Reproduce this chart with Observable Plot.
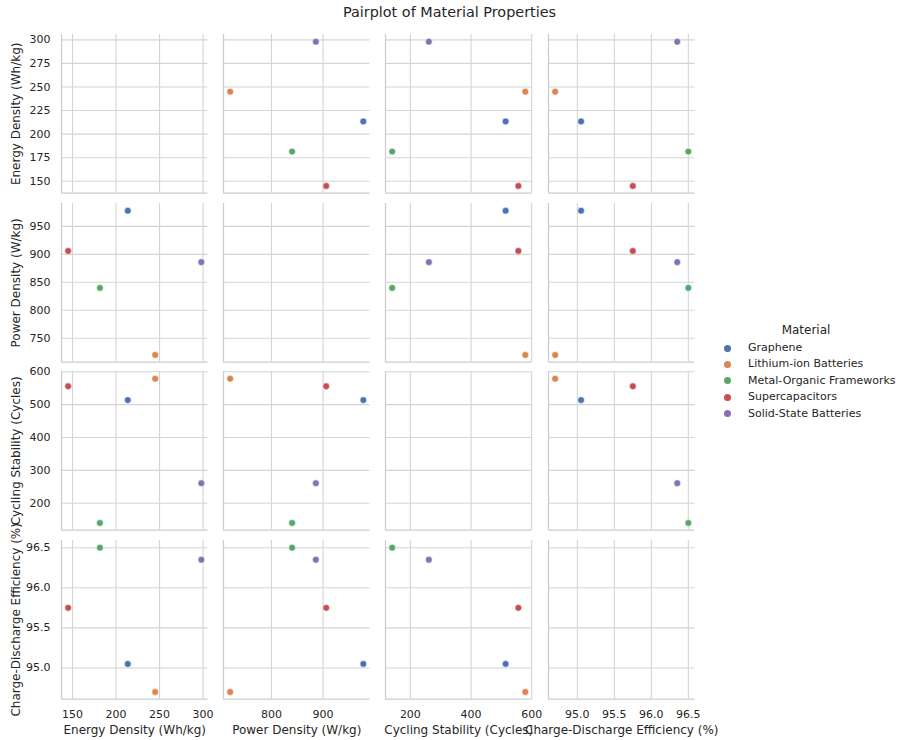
<!DOCTYPE html>
<html><head><meta charset="utf-8">
<script src="https://cdn.jsdelivr.net/npm/d3@7"></script>
<script src="https://cdn.jsdelivr.net/npm/@observablehq/plot@0.6"></script>
<style>
body{margin:0;background:#fff;font-family:"DejaVu Sans",sans-serif;color:#262626;}
#chart{position:relative;width:899px;height:740px;overflow:hidden;}
#chart svg{position:absolute;}
.title{position:absolute;left:0;top:4px;width:899px;text-align:center;font-size:14.4px;line-height:16px;}
.lgtitle{position:absolute;left:706px;width:200px;top:322px;text-align:center;font-size:12px;line-height:16px;}
.lgitem{position:absolute;left:748px;font-size:11px;line-height:16px;white-space:nowrap;}
.lgdot{position:absolute;width:7px;height:7px;border-radius:50%;}
</style></head><body><div id="chart"></div>
<script>
// ---- data ----
const materials = ["Graphene","Lithium-ion Batteries","Metal-Organic Frameworks","Supercapacitors","Solid-State Batteries"];
const energyDensity    = [213.5, 245, 181.5, 145, 298];
const powerDensity     = [978, 720, 840, 906, 886];
const cyclingStability = [514, 579, 140, 556, 261];
const efficiency       = [95.05, 94.7, 96.5, 95.75, 96.35];
const colors = ["#4c72b0","#dd8452","#55a868","#c44e52","#8172b3"];
const varLabels = ["Energy Density (Wh/kg)","Power Density (W/kg)","Cycling Stability (Cycles)","Charge-Discharge Efficiency (%)"];
// tick labels: x (column) ticks and y (row) ticks per variable
const xTickValues = [[150,200,250,300],[800,900],[200,400,600],[95.0,95.5,96.0,96.5]];
const yTickValues = [[150,175,200,225,250,275,300],[750,800,850,900,950],[200,300,400,500,600],[95.0,95.5,96.0,96.5]];
const tickFormats = [d3.format("d"), d3.format("d"), d3.format("d"), d3.format(".1f")];

// ---- build ----
const vars = [energyDensity, powerDensity, cyclingStability, efficiency];
const rowsData = materials.map((m, i) => ({material: m, v: vars.map(a => a[i])}));
function paddedDomain(arr) {
  const [a, b] = d3.extent(arr); const p = (b - a) * 0.05; return [a - p, b + p];
}
const domains = vars.map(paddedDomain);

const chart = document.getElementById("chart");
const t = document.createElement("div"); t.className = "title"; t.textContent = "Pairplot of Material Properties"; chart.appendChild(t);

const FW = 146.5, FH = 158.7, X0 = 61, Y0 = 34, DX = 162.2, DY = 168.7;
const gridStyle = {stroke: "#d4d4d4", strokeOpacity: 1, strokeWidth: 1.1};

for (let r = 0; r < 4; r++) {
  for (let c = 0; c < 4; c++) {
    const ml = c === 0 ? 61 : 4, mb = r === 3 ? 42 : 4, mt = 4, mr = 4;
    const marks = [
      Plot.gridX(xTickValues[c].filter(v => v >= domains[c][0] && v <= domains[c][1]), gridStyle),
      Plot.gridY(yTickValues[r].filter(v => v >= domains[r][0] && v <= domains[r][1]), gridStyle),
      Plot.ruleX([domains[c][0]], {stroke: "#cccccc", strokeWidth: 1.25}),
      Plot.ruleY([domains[r][0]], {stroke: "#cccccc", strokeWidth: 1.25})
    ];
    if (r !== c) {
      marks.push(Plot.dot(rowsData, {x: d => d.v[c], y: d => d.v[r], fill: "material", stroke: "white", strokeWidth: 0.6, r: 3.4}));
    }
    if (c === 0) {
      marks.push(Plot.axisY(yTickValues[r], {tickSize: 0, tickPadding: 11, tickFormat: tickFormats[r], label: null, fontSize: 11}));
      marks.push(Plot.text([varLabels[r]], {text: d => d, frameAnchor: "left", textAnchor: "middle", rotate: -90, lineAnchor: "top", dx: -50, fontSize: 12, fill: "#262626"}));
    }
    if (r === 3) {
      marks.push(Plot.axisX(xTickValues[c], {tickSize: 0, tickPadding: 11, tickFormat: tickFormats[c], label: null, fontSize: 11}));
      marks.push(Plot.text([varLabels[c]], {text: d => d, frameAnchor: "bottom", textAnchor: "middle", lineAnchor: "top", dy: 26, fontSize: 12, fill: "#262626"}));
    }
    const svg = Plot.plot({
      width: ml + FW + mr, height: mt + FH + mb,
      marginLeft: ml, marginRight: mr, marginTop: mt, marginBottom: mb,
      x: {domain: domains[c], axis: null},
      y: {domain: domains[r], axis: null},
      color: {domain: materials, range: colors},
      style: {background: "transparent", overflow: "visible", fontFamily: "DejaVu Sans", fontSize: "11px", color: "#262626"},
      marks
    });
    svg.style.left = (X0 + c * DX - ml) + "px";
    svg.style.top = (Y0 + r * DY - mt) + "px";
    chart.appendChild(svg);
  }
}

// ---- legend ----
const lt = document.createElement("div"); lt.className = "lgtitle"; lt.textContent = "Material"; chart.appendChild(lt);
const legendY = [348, 364.4, 380.8, 397.2, 413.6];
materials.forEach((m, i) => {
  const dot = document.createElement("div"); dot.className = "lgdot";
  dot.style.background = colors[i]; dot.style.left = (727.7 - 3.5) + "px"; dot.style.top = (legendY[i] - 3.5) + "px";
  chart.appendChild(dot);
  const it = document.createElement("div"); it.className = "lgitem"; it.textContent = m;
  it.style.top = (legendY[i] - 8) + "px"; chart.appendChild(it);
});
</script></body></html>
